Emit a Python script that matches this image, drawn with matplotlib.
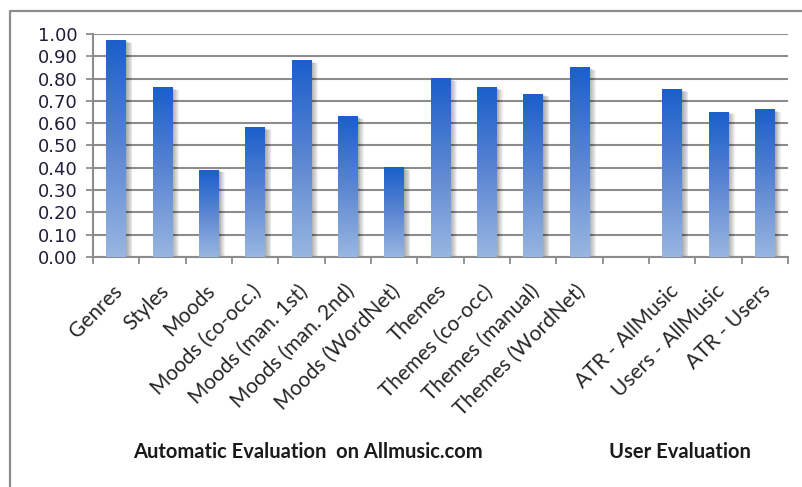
import numpy as np
import matplotlib
matplotlib.use("Agg")
import matplotlib.pyplot as plt
from matplotlib.colors import LinearSegmentedColormap
from matplotlib.lines import Line2D
from matplotlib import transforms

categories = [
    "Genres", "Styles", "Moods", "Moods (co-occ.)", "Moods (man. 1st)",
    "Moods (man. 2nd)", "Moods (WordNet)", "Themes", "Themes (co-occ)",
    "Themes (manual)", "Themes (WordNet)", "",
    "ATR - AllMusic", "Users - AllMusic", "ATR - Users",
]
values = [0.97, 0.76, 0.39, 0.58, 0.88, 0.63, 0.40, 0.80, 0.76, 0.73, 0.85,
          None, 0.75, 0.65, 0.66]
yticks = [0.0, 0.1, 0.2, 0.3, 0.4, 0.5, 0.6, 0.7, 0.8, 0.9, 1.0]
group_labels = ["Automatic Evaluation  on Allmusic.com", "User Evaluation"]

GRID = "#8c8c8c"
LABEL_FONT = ["Lato", "DejaVu Sans"]

fig = plt.figure(figsize=(8.03, 4.87), dpi=100)
ax = fig.add_axes([0.1158, 0.4723, 0.9813 - 0.1158, 0.9302 - 0.4723])

# outer frame (top and left edges)
fig.add_artist(Line2D([10 / 803, 10 / 803, 1.0], [0.0, 1 - 11 / 487, 1 - 11 / 487],
                      transform=fig.transFigure, color=GRID, lw=1.6))

n = len(categories)
x = np.arange(n)
width = 0.43
cmap = LinearSegmentedColormap.from_list("bar", ["#98b6e1", "#5b86d2", "#1a5fcb"])
grad = np.linspace(0, 1, 256).reshape(-1, 1)

for xi, v in zip(x, values):
    if v is None:
        continue
    # soft drop shadow to the right
    for k in range(1, 8):
        off = transforms.offset_copy(ax.transData, fig=fig, x=k * 0.9, y=-k * 0.35,
                                     units="dots")
        ax.bar(xi, v, width, color="#000000", alpha=0.05, transform=off,
               zorder=2.5, linewidth=0)
    ax.imshow(grad, cmap=cmap, origin="lower", aspect="auto",
              extent=[xi - width / 2, xi + width / 2, 0, v], zorder=3,
              interpolation="bilinear")

ax.set_xlim(-0.5, n - 0.5)
ax.set_ylim(0, 1.0)
ax.set_yticks(yticks)
ax.set_yticklabels([f"{t:.2f}" for t in yticks], fontsize=13,
                   color="#1e1e3a", family="DejaVu Sans")
ax.yaxis.grid(True, color=GRID, lw=1.5, zorder=1)
ax.set_axisbelow(True)

ax.set_xticks(np.arange(n + 1) - 0.5)
ax.set_xticklabels([])
ax.tick_params(axis="x", direction="out", length=5, width=1.3, color=GRID)
ax.tick_params(axis="y", direction="out", length=5, width=1.3, color=GRID, pad=6)
for s in ["top", "right"]:
    ax.spines[s].set_visible(False)
for s in ["left", "bottom"]:
    ax.spines[s].set_color(GRID)
    ax.spines[s].set_linewidth(1.5)

# rotated category labels
lab_tr = transforms.offset_copy(ax.get_xaxis_transform(), fig=fig, x=-4, y=-24,
                                units="dots")
for xi, lab in zip(x, categories):
    if lab:
        ax.text(xi, 0, lab, rotation=45, ha="right", va="top",
                rotation_mode="anchor", transform=lab_tr, fontsize=15,
                color="#262626", family=LABEL_FONT)

fig.text(308 / 803, 1 - 452 / 487, group_labels[0], ha="center", va="center",
         fontsize=14.5, fontweight="bold", color="#1a1a1a", family=LABEL_FONT)
fig.text(680 / 803, 1 - 452 / 487, group_labels[1], ha="center", va="center",
         fontsize=14.5, fontweight="bold", color="#1a1a1a", family=LABEL_FONT)

fig.savefig("out.png", dpi=100, facecolor="white")
